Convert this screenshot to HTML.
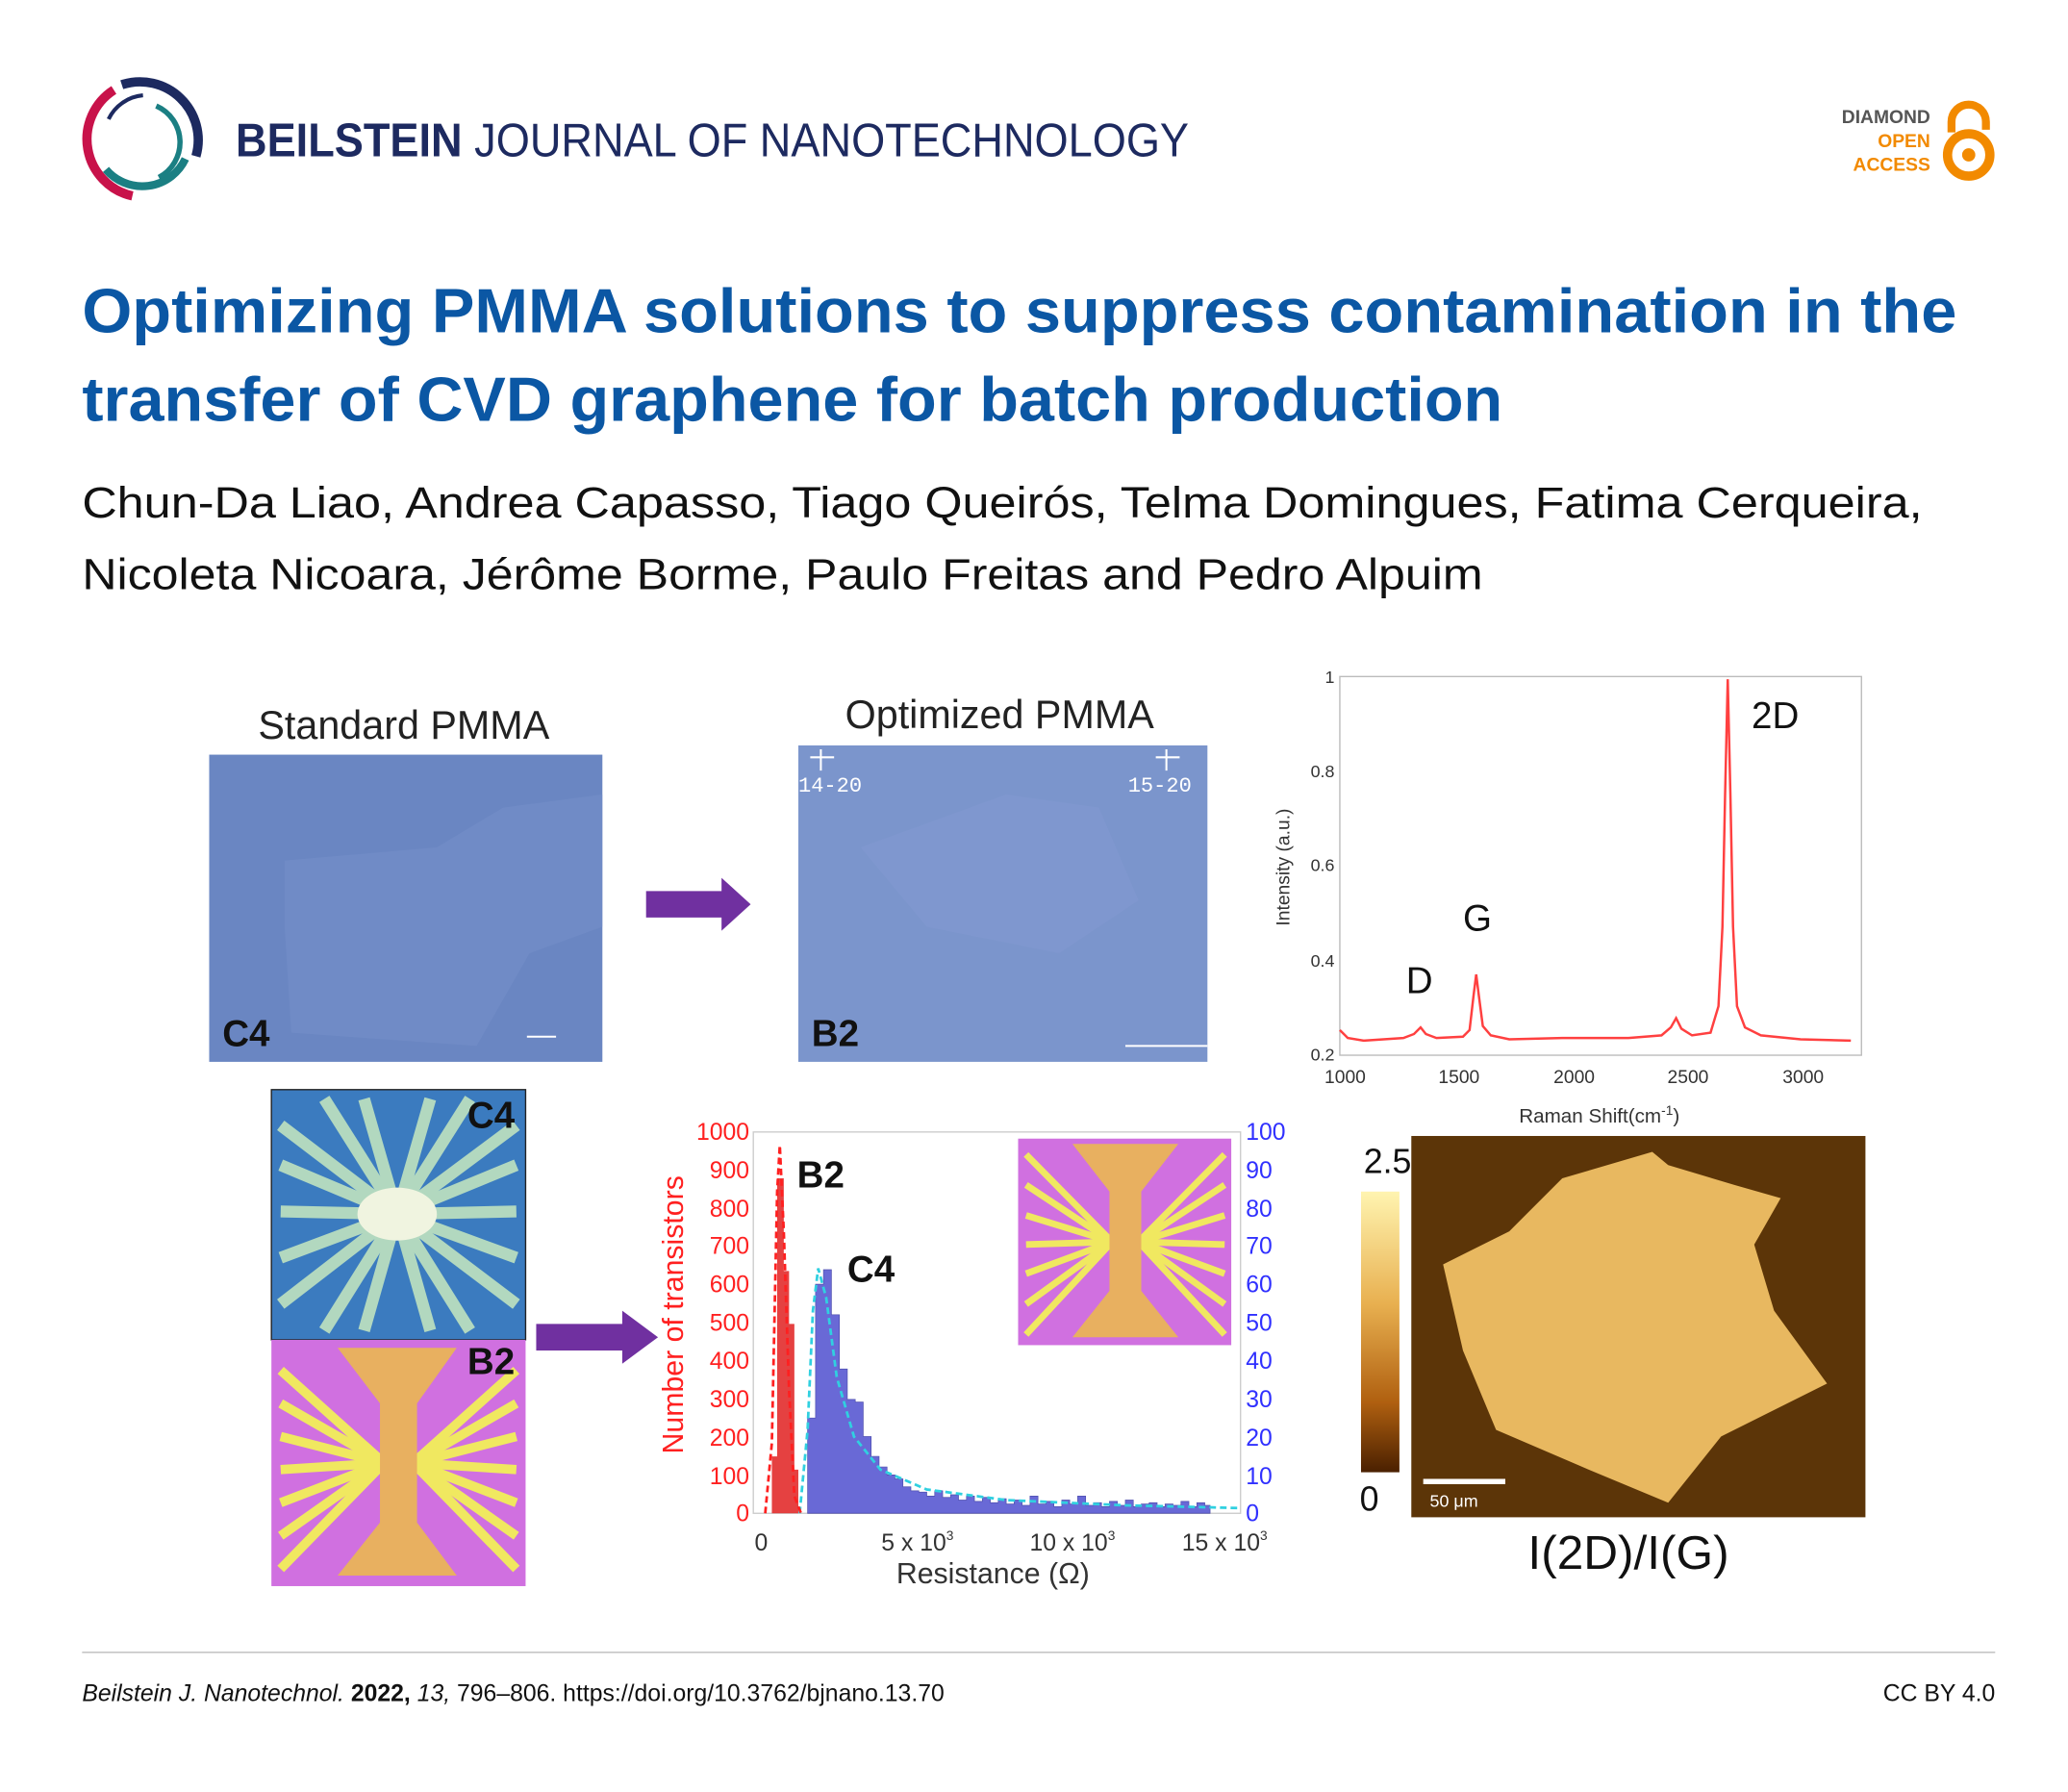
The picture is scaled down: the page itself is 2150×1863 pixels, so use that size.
<!DOCTYPE html>
<html><head><meta charset="utf-8"><style>html,body{margin:0;padding:0;background:#fff;}svg{display:block;}</style></head>
<body>
<svg width="2150" height="1863" viewBox="0 0 1562 1353.5" preserveAspectRatio="none" xmlns="http://www.w3.org/2000/svg" font-family="Liberation Sans, sans-serif">
<rect width="1562" height="1354" fill="#fff"/>
<!-- logo -->
<path d="M92,64 A44,44 0 0 1 148,118" fill="none" stroke="#1d2a60" stroke-width="7"/>
<path d="M86,68 A44,44 0 0 0 100,148" fill="none" stroke="#c8124a" stroke-width="7"/>
<path d="M80,128 A36,36 0 0 0 140,120" fill="none" stroke="#1b7f83" stroke-width="6"/>
<path d="M118,80 A30,30 0 0 1 120,134" fill="none" stroke="#1b7f83" stroke-width="4"/>
<path d="M82,90 A32,32 0 0 1 108,72" fill="none" stroke="#1d2a60" stroke-width="3"/>
<text x="178" y="118" font-size="36" fill="#1d2a60" textLength="720" lengthAdjust="spacingAndGlyphs"><tspan font-weight="bold">BEILSTEIN</tspan> JOURNAL OF NANOTECHNOLOGY</text>
<!-- open access -->
<text x="1458" y="93" font-size="14" font-weight="bold" fill="#555" text-anchor="end">DIAMOND</text>
<text x="1458" y="111" font-size="14" font-weight="bold" fill="#f28a00" text-anchor="end">OPEN</text>
<text x="1458" y="129" font-size="14" font-weight="bold" fill="#f28a00" text-anchor="end">ACCESS</text>
<path d="M1474,100 V92 A13,13 0 0 1 1500,92 V98" fill="none" stroke="#f28a00" stroke-width="6"/>
<circle cx="1487" cy="117" r="16" fill="none" stroke="#f28a00" stroke-width="7"/>
<circle cx="1487" cy="117" r="5" fill="#f28a00"/>
<!-- title -->
<text x="62" y="251" font-size="47" font-weight="bold" fill="#0b57a4" textLength="1416" lengthAdjust="spacingAndGlyphs">Optimizing PMMA solutions to suppress contamination in the</text>
<text x="62" y="318" font-size="47" font-weight="bold" fill="#0b57a4" textLength="1073" lengthAdjust="spacingAndGlyphs">transfer of CVD graphene for batch production</text>
<text x="62" y="391" font-size="33" fill="#111" textLength="1390" lengthAdjust="spacingAndGlyphs">Chun-Da Liao, Andrea Capasso, Tiago Queirós, Telma Domingues, Fatima Cerqueira,</text>
<text x="62" y="445" font-size="33" fill="#111" textLength="1058" lengthAdjust="spacingAndGlyphs">Nicoleta Nicoara, Jérôme Borme, Paulo Freitas and Pedro Alpuim</text>
<!-- standard PMMA -->
<text x="305" y="558" font-size="30" fill="#222" text-anchor="middle">Standard PMMA</text>
<rect x="158" y="570" width="297" height="232" fill="#6a86c2"/>
<polygon points="215,650 330,640 380,610 455,600 455,700 400,720 360,790 220,780 215,700" fill="#7590c8" opacity="0.6"/>
<text x="168" y="790" font-size="28" font-weight="bold" fill="#111">C4</text>
<line x1="398" y1="783" x2="420" y2="783" stroke="#fff" stroke-width="1.5"/>
<polygon points="488,673 545,673 545,663 567,683 545,703 545,693 488,693" fill="#7030a0"/>
<!-- optimized -->
<text x="755" y="550" font-size="30" fill="#222" text-anchor="middle">Optimized PMMA</text>
<rect x="603" y="563" width="309" height="239" fill="#7b95cc"/>
<polygon points="650,640 760,600 830,610 860,680 800,720 700,700" fill="#8199d0" opacity="0.7"/>
<text x="603" y="598" font-size="16" fill="#fff" font-family="Liberation Mono, monospace">14-20</text>
<text x="852" y="598" font-size="16" fill="#fff" font-family="Liberation Mono, monospace">15-20</text>
<path d="M620,566 v16 M612,572 h18 M881,566 v16 M873,572 h18" stroke="#fff" stroke-width="1.5"/>
<text x="613" y="790" font-size="28" font-weight="bold" fill="#111">B2</text>
<line x1="850" y1="790" x2="912" y2="790" stroke="#fff" stroke-width="1.5"/>
<!-- Raman -->
<rect x="1012" y="511" width="394" height="286" fill="#fff" stroke="#bbb" stroke-width="1"/>
<g font-size="13" fill="#333" text-anchor="end">
<text x="1008" y="801">0.2</text><text x="1008" y="730">0.4</text><text x="1008" y="658">0.6</text><text x="1008" y="587">0.8</text><text x="1008" y="516">1</text>
</g>
<g font-size="14" fill="#333" text-anchor="middle">
<text x="1016" y="818">1000</text><text x="1102" y="818">1500</text><text x="1189" y="818">2000</text><text x="1275" y="818">2500</text><text x="1362" y="818">3000</text>
</g>
<text x="1208" y="848" font-size="15" fill="#333" text-anchor="middle">Raman Shift(cm<tspan dy="-6" font-size="10">-1</tspan><tspan dy="6">)</tspan></text>
<text transform="translate(974,655) rotate(-90)" font-size="14" fill="#333" text-anchor="middle">Intensity (a.u.)</text>
<polyline fill="none" stroke="#ff4040" stroke-width="1.8" points="1012,778 1018,784 1030,786 1060,784 1068,781 1073,776 1077,781 1085,784 1105,783 1110,778 1113,752 1115,736 1117,752 1120,775 1126,782 1140,785 1180,784 1230,784 1255,782 1262,776 1266,769 1270,777 1278,782 1292,780 1298,760 1301,700 1303,600 1305,513 1307,600 1309,700 1312,760 1318,776 1330,782 1360,785 1398,786"/>
<text x="1323" y="550" font-size="28" fill="#111">2D</text>
<text x="1105" y="703" font-size="28" fill="#111">G</text>
<text x="1062" y="750" font-size="28" fill="#111">D</text>
<!-- device images -->
<rect x="205" y="823" width="192" height="189" fill="#3b7bbf" stroke="#222" stroke-width="1"/>
<g stroke="#bfe3c0" stroke-width="9" opacity="0.9">
<line x1="300" y1="917" x2="212" y2="850"/><line x1="300" y1="917" x2="212" y2="880"/><line x1="300" y1="917" x2="212" y2="915"/><line x1="300" y1="917" x2="212" y2="950"/><line x1="300" y1="917" x2="212" y2="985"/>
<line x1="300" y1="917" x2="390" y2="850"/><line x1="300" y1="917" x2="390" y2="880"/><line x1="300" y1="917" x2="390" y2="915"/><line x1="300" y1="917" x2="390" y2="950"/><line x1="300" y1="917" x2="390" y2="985"/>
<line x1="300" y1="917" x2="245" y2="830"/><line x1="300" y1="917" x2="275" y2="830"/><line x1="300" y1="917" x2="325" y2="830"/><line x1="300" y1="917" x2="355" y2="830"/>
<line x1="300" y1="917" x2="245" y2="1005"/><line x1="300" y1="917" x2="275" y2="1005"/><line x1="300" y1="917" x2="325" y2="1005"/><line x1="300" y1="917" x2="355" y2="1005"/>
</g>
<ellipse cx="300" cy="917" rx="30" ry="20" fill="#f0f4e0"/>
<text x="353" y="852" font-size="28" font-weight="bold" fill="#111">C4</text>
<rect x="205" y="1012" width="192" height="186" fill="#d070e0"/>
<g stroke="#f0e860" stroke-width="7">
<line x1="290" y1="1105" x2="212" y2="1035"/><line x1="290" y1="1105" x2="212" y2="1060"/><line x1="290" y1="1105" x2="212" y2="1085"/><line x1="290" y1="1105" x2="212" y2="1110"/><line x1="290" y1="1105" x2="212" y2="1135"/><line x1="290" y1="1105" x2="212" y2="1160"/><line x1="290" y1="1105" x2="212" y2="1185"/>
<line x1="312" y1="1105" x2="390" y2="1035"/><line x1="312" y1="1105" x2="390" y2="1060"/><line x1="312" y1="1105" x2="390" y2="1085"/><line x1="312" y1="1105" x2="390" y2="1110"/><line x1="312" y1="1105" x2="390" y2="1135"/><line x1="312" y1="1105" x2="390" y2="1160"/><line x1="312" y1="1105" x2="390" y2="1185"/>
</g>
<path d="M255,1018 H345 L315,1060 V1150 L345,1190 H255 L287,1150 V1060 Z" fill="#e8b060"/>
<text x="353" y="1038" font-size="28" font-weight="bold" fill="#111">B2</text>
<polygon points="405,1000 470,1000 470,990 497,1010 470,1030 470,1020 405,1020" fill="#7030a0"/>
<!-- histogram -->
<rect x="569" y="855" width="368" height="288" fill="#fff" stroke="#ccc" stroke-width="1"/>
<g font-size="18" fill="#ff2020" text-anchor="end">
<text x="566" y="1149">0</text><text x="566" y="1121">100</text><text x="566" y="1092">200</text><text x="566" y="1063">300</text><text x="566" y="1034">400</text><text x="566" y="1005">500</text><text x="566" y="976">600</text><text x="566" y="947">700</text><text x="566" y="919">800</text><text x="566" y="890">900</text><text x="566" y="861">1000</text>
</g>
<g font-size="18" fill="#3030ff">
<text x="941" y="1149">0</text><text x="941" y="1121">10</text><text x="941" y="1092">20</text><text x="941" y="1063">30</text><text x="941" y="1034">40</text><text x="941" y="1005">50</text><text x="941" y="976">60</text><text x="941" y="947">70</text><text x="941" y="919">80</text><text x="941" y="890">90</text><text x="941" y="861">100</text>
</g>
<text transform="translate(516,993) rotate(-90)" font-size="22" fill="#ff2020" text-anchor="middle">Number of transistors</text>
<g font-size="18" fill="#333" text-anchor="middle">
<text x="575" y="1171">0</text><text x="693" y="1171">5 x 10<tspan dy="-8" font-size="10">3</tspan></text><text x="810" y="1171">10 x 10<tspan dy="-8" font-size="10">3</tspan></text><text x="925" y="1171">15 x 10<tspan dy="-8" font-size="10">3</tspan></text>
</g>
<text x="750" y="1196" font-size="22" fill="#333" text-anchor="middle">Resistance (Ω)</text>
<path d="M610,1143 V1071 h6 V970 h6 V959 h6 V993 h6 V1034 h6 V1057 h6 V1059 h6 V1085 h6 V1100 h6 V1108 h6 V1114 h6 V1117 h6 V1123 h6 V1126 h6 V1127 h6 V1130 h6 V1126 h6 V1131 h6 V1129 h6 V1133 h6 V1130 h6 V1134 h6 V1131 h6 V1135 h6 V1132 h6 V1136 h6 V1133 h6 V1137 h6 V1130 h6 V1136 h6 V1134 h6 V1138 h6 V1133 h6 V1136 h6 V1130 h6 V1137 h6 V1135 h6 V1138 h6 V1134 h6 V1137 h6 V1133 h6 V1138 h6 V1136 h6 V1135 h6 V1138 h6 V1136 h6 V1137 h6 V1134 h6 V1138 h6 V1135 h6 V1137 h4 V1143 Z" fill="#5050d0" opacity="0.85" stroke="#3030a0" stroke-width="0.5"/>
<polyline fill="none" stroke="#30d0e0" stroke-width="2" stroke-dasharray="5,3" points="604,1143 610,1080 614,990 618,958 624,980 632,1040 645,1085 665,1110 700,1125 760,1133 850,1137 935,1139"/>
<path d="M583,1143 V1100 h4 V890 h5 V960 h4 V1000 h4 V1110 h3 V1143 Z" fill="#e02020" opacity="0.85"/>
<polyline fill="none" stroke="#ff2020" stroke-width="2" stroke-dasharray="5,3" points="578,1143 583,1090 587,900 589,865 592,930 596,1050 600,1130 605,1143"/>
<text x="602" y="897" font-size="28" font-weight="bold" fill="#111">B2</text>
<text x="640" y="968" font-size="28" font-weight="bold" fill="#111">C4</text>
<rect x="769" y="860" width="161" height="156" fill="#d070e0"/>
<g stroke="#f0e860" stroke-width="5">
<line x1="840" y1="938" x2="775" y2="872"/><line x1="840" y1="938" x2="775" y2="895"/><line x1="840" y1="938" x2="775" y2="918"/><line x1="840" y1="938" x2="775" y2="940"/><line x1="840" y1="938" x2="775" y2="962"/><line x1="840" y1="938" x2="775" y2="985"/><line x1="840" y1="938" x2="775" y2="1008"/>
<line x1="860" y1="938" x2="925" y2="872"/><line x1="860" y1="938" x2="925" y2="895"/><line x1="860" y1="938" x2="925" y2="918"/><line x1="860" y1="938" x2="925" y2="940"/><line x1="860" y1="938" x2="925" y2="962"/><line x1="860" y1="938" x2="925" y2="985"/><line x1="860" y1="938" x2="925" y2="1008"/>
</g>
<path d="M810,864 H890 L862,900 V975 L890,1010 H810 L838,975 V900 Z" fill="#e8b060"/>
<!-- AFM -->
<defs><linearGradient id="cb" x1="0" y1="0" x2="0" y2="1"><stop offset="0" stop-color="#fff4b0"/><stop offset="0.4" stop-color="#e8b050"/><stop offset="0.75" stop-color="#b06010"/><stop offset="1" stop-color="#4a2000"/></linearGradient></defs>
<rect x="1028" y="900" width="29" height="212" fill="url(#cb)"/>
<text x="1030" y="886" font-size="26" fill="#111">2.5</text>
<text x="1027" y="1141" font-size="26" fill="#111">0</text>
<rect x="1066" y="858" width="343" height="288" fill="#5c3508"/>
<polygon points="1180,890 1248,870 1260,880 1310,895 1345,905 1325,940 1340,990 1380,1045 1300,1085 1260,1135 1200,1110 1130,1080 1105,1020 1090,955 1140,930" fill="#e8b860"/>
<rect x="1075" y="1117" width="62" height="4" fill="#fff"/>
<text x="1080" y="1138" font-size="13" fill="#fff">50 μm</text>
<text x="1230" y="1185" font-size="36" fill="#111" text-anchor="middle">I(2D)/I(G)</text>
<!-- footer -->
<line x1="62" y1="1248" x2="1507" y2="1248" stroke="#bbb" stroke-width="1"/>
<text x="62" y="1285" font-size="18" fill="#111"><tspan font-style="italic">Beilstein J. Nanotechnol.</tspan> <tspan font-weight="bold">2022,</tspan> <tspan font-style="italic">13,</tspan> 796–806. https://doi.org/10.3762/bjnano.13.70</text>
<text x="1507" y="1285" font-size="18" fill="#111" text-anchor="end">CC BY 4.0</text>
</svg>
</body></html>
